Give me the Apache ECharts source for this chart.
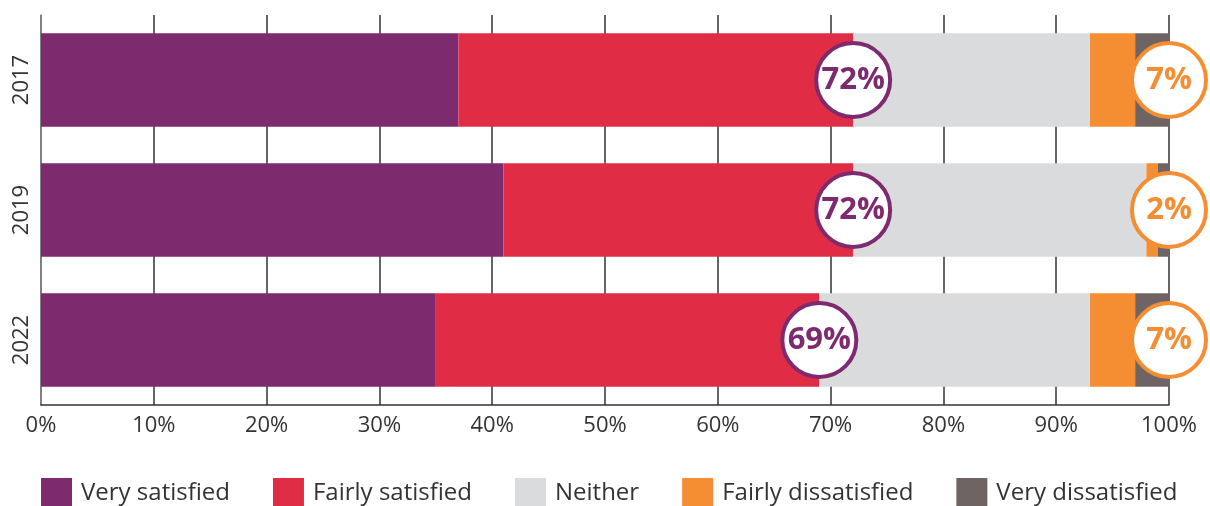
<!DOCTYPE html>
<html><head><meta charset="utf-8">
<script src="https://cdn.jsdelivr.net/npm/echarts@6/dist/echarts.min.js"></script>
<style>html,body{margin:0;padding:0;background:#fff}#c{width:1210px;height:506px}</style>
</head><body><div id="c"></div>
<script>
const years = ['2017', '2019', '2022'];
const seriesNames = ['Very satisfied', 'Fairly satisfied', 'Neither', 'Fairly dissatisfied', 'Very dissatisfied'];
const verySatisfied = [37, 41, 35];
const fairlySatisfied = [35, 31, 34];
const neither = [21, 26, 24];
const fairlyDissatisfied = [4, 1, 4];
const veryDissatisfied = [3, 1, 3];
const satisfiedTotal = [72, 72, 69];
const dissatisfiedTotal = [7, 2, 7];
const xTicks = [0, 10, 20, 30, 40, 50, 60, 70, 80, 90, 100];

const colors = ['#7D2A6F', '#E12C46', '#DADBDD', '#F58D33', '#6E6463'];
const values = [verySatisfied, fairlySatisfied, neither, fairlyDissatisfied, veryDissatisfied];
const FONT = 'Open Sans';

const barSeries = seriesNames.map((n, i) => ({
  name: n, type: 'bar', stack: 'a', barWidth: '72%',
  itemStyle: { color: colors[i] },
  data: values[i], z: 2
}));

const totals = years.map((y, k) => values.reduce((s, a) => s + a[k], 0));

const circleBase = {
  type: 'scatter', symbol: 'circle', symbolSize: 74, clip: false, z: 5,
  label: { show: true, position: 'inside', fontFamily: FONT, fontWeight: 'bold', fontSize: 31 },
  tooltip: { show: false }
};

const option = {
  animation: false,
  grid: { left: 41, right: 41, top: 15, bottom: 101 },
  xAxis: {
    type: 'value', min: 0, max: 100, interval: 10,
    axisLine: { show: true, lineStyle: { color: '#333', width: 1.5 } },
    axisTick: { show: false },
    splitLine: { show: true, lineStyle: { color: '#333', width: 1.5 } },
    axisLabel: { formatter: v => v + '%', color: '#333', fontFamily: FONT, fontSize: 22, margin: 10 }
  },
  yAxis: {
    type: 'category', data: years, inverse: true,
    axisLine: { show: true, lineStyle: { color: '#888', width: 1.5 } },
    axisTick: { show: false },
    axisLabel: { rotate: 90, color: '#333', fontFamily: FONT, fontSize: 22, margin: 8 }
  },
  legend: {
    data: seriesNames, left: 41, top: 478, padding: 0, itemWidth: 31, itemHeight: 31, itemGap: 43,
    icon: 'rect',
    textStyle: { color: '#333', fontFamily: FONT, fontSize: 24, padding: [4, 0, 0, 4] }
  },
  series: barSeries.concat([
    Object.assign({}, circleBase, {
      name: 'satisfied',
      itemStyle: { color: '#fff', borderColor: '#7D2A6F', borderWidth: 4, opacity: 1 },
      label: Object.assign({}, circleBase.label, { color: '#7D2A6F', formatter: p => p.value[0] + '%' }),
      data: satisfiedTotal.map((v, k) => [v, years[k]])
    }),
    Object.assign({}, circleBase, {
      name: 'dissatisfied',
      itemStyle: { color: '#fff', borderColor: '#F58D33', borderWidth: 4, opacity: 1 },
      label: Object.assign({}, circleBase.label, { color: '#F58D33', formatter: p => dissatisfiedTotal[p.dataIndex] + '%' }),
      data: totals.map((t, k) => [t, years[k]])
    })
  ])
};
echarts.init(document.getElementById('c')).setOption(option);
</script></body></html>
